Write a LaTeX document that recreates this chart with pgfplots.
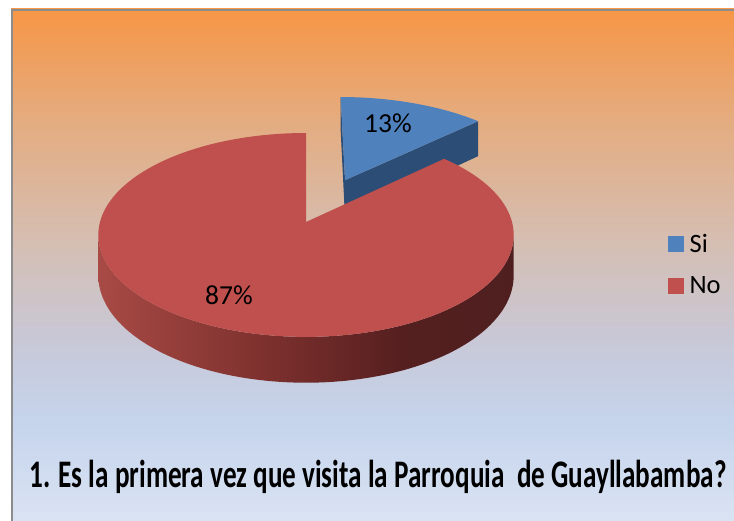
\documentclass[border=0pt]{standalone}
\usepackage{fontspec}
\setmainfont{Carlito}
\usepackage{graphicx}
\usepackage{pgfplots}
\pgfplotsset{compat=1.18}
\usepackage{pgfplotstable}

\definecolor{siblue}{RGB}{79,129,189}
\definecolor{sidark}{RGB}{44,77,117}
\definecolor{nored}{RGB}{192,80,77}
\definecolor{framegray}{RGB}{140,140,140}

\pgfdeclareverticalshading{bgshade}{100bp}{rgb(0bp)=(0.855,0.890,0.953); rgb(25bp)=(0.855,0.890,0.953); rgb(34.77bp)=(0.773,0.831,0.925); rgb(42.58bp)=(0.784,0.784,0.843); rgb(52.34bp)=(0.835,0.745,0.698); rgb(64.06bp)=(0.894,0.675,0.502); rgb(75bp)=(0.969,0.588,0.275); rgb(100bp)=(0.969,0.588,0.275)}
\pgfdeclarehorizontalshading{redside}{100bp}{rgb(0bp)=(0.66,0.29,0.27); rgb(25bp)=(0.66,0.29,0.27); rgb(45bp)=(0.49,0.19,0.18); rgb(62bp)=(0.33,0.12,0.12); rgb(75bp)=(0.31,0.12,0.12); rgb(100bp)=(0.31,0.12,0.12)}

\pgfplotstableread{
Respuesta Valor
Si 13
No 87
}\datatable

\begin{document}
\begin{tikzpicture}
\pgfplotstablegetelem{0}{Valor}\of\datatable \let\vSi\pgfplotsretval
\pgfplotstablegetelem{1}{Valor}\of\datatable \let\vNo\pgfplotsretval
\pgfmathsetmacro\tA{90}
\pgfmathsetmacro\tB{90-3.6*\vSi}
\pgfmathsetmacro\tC{\tB-3.6*\vNo}
\def\cu{0.2}
\def\cv{0.44}
\def\rb{1.04}
\useasboundingbox (0,0) rectangle (734bp,521bp);
\shade[shading=bgshade] (11bp,0) rectangle (734bp,512bp);
\draw[framegray, line width=1.6bp] (11.8bp,0) -- (11.8bp,511.2bp) -- (734bp,511.2bp);
\begin{axis}[
  at={(11bp,0bp)}, anchor=south west,
  width=723bp, height=512bp, scale only axis,
  xmin=11, xmax=734, ymin=9, ymax=521, y dir=reverse,
  hide axis,
  declare function={
    PX(\pa,\pb)=306+206*\pa/(1+0.127*\pb);
    PY(\pa,\pb,\pc)=222-(100.3*\pb-\pc)/(1+0.127*\pb);
  },
  legend image code/.code={\fill[#1] (0bp,-7.5bp) rectangle (15bp,7.5bp); \path (19bp,0bp);},
  legend cell align=left,
  legend style={at={(axis cs:668,232)}, anchor=north west, draw=none, fill=none,
    inner sep=0pt, row sep=19bp, font=\fontsize{26.5bp}{31bp}\selectfont},
]
% blue slice: walls
\addplot[forget plot, draw=none, fill=sidark, domain=0:3, samples=4, variable=\t]
 ({PX(\cu+\rb*min(min(\t,3-\t),1)*cos(\tB), \cv+\rb*min(min(\t,3-\t),1)*sin(\tB))},
  {PY(\cu+\rb*min(min(\t,3-\t),1)*cos(\tB), \cv+\rb*min(min(\t,3-\t),1)*sin(\tB), 40*min(max(\t-1,0),1))});
\addplot[forget plot, draw=none, fill=sidark, domain=0:3, samples=4, variable=\t]
 ({PX(\cu+\rb*min(min(\t,3-\t),1)*cos(\tA), \cv+\rb*min(min(\t,3-\t),1)*sin(\tA))},
  {PY(\cu+\rb*min(min(\t,3-\t),1)*cos(\tA), \cv+\rb*min(min(\t,3-\t),1)*sin(\tA), 40*min(max(\t-1,0),1))});
% blue slice: top
\addplot[forget plot, draw=none, fill=siblue, domain=0:61, samples=62, variable=\t]
 ({PX(\cu+\rb*min(\t,1)*cos(\tA+(\tB-\tA)*max(\t-1,0)/60), \cv+\rb*min(\t,1)*sin(\tA+(\tB-\tA)*max(\t-1,0)/60))},
  {PY(\cu+\rb*min(\t,1)*cos(\tA+(\tB-\tA)*max(\t-1,0)/60), \cv+\rb*min(\t,1)*sin(\tA+(\tB-\tA)*max(\t-1,0)/60), 0)});
% red slice: outer side
\addplot[forget plot, draw=none, shading=redside, domain=0:201, samples=202, variable=\t]
 ({PX(cos(187.3+165.4*min(\t,201-\t)/100), sin(187.3+165.4*min(\t,201-\t)/100))},
  {PY(cos(187.3+165.4*min(\t,201-\t)/100), sin(187.3+165.4*min(\t,201-\t)/100), 40*min(max(\t-100,0),1))});
% red slice: top
\addplot[forget plot, draw=none, fill=nored, domain=0:201, samples=202, variable=\t]
 ({PX(min(\t,1)*cos(\tB+(\tC-\tB)*max(\t-1,0)/200), min(\t,1)*sin(\tB+(\tC-\tB)*max(\t-1,0)/200))},
  {PY(min(\t,1)*cos(\tB+(\tC-\tB)*max(\t-1,0)/200), min(\t,1)*sin(\tB+(\tC-\tB)*max(\t-1,0)/200), 0)});
\addlegendimage{siblue}
\addlegendentry{Si}
\addlegendimage{nored}
\addlegendentry{No}
\node[font=\fontsize{27.5bp}{32bp}\selectfont, inner sep=0pt] at (axis cs:388,123) {\vSi\%};
\node[font=\fontsize{27.5bp}{32bp}\selectfont, inner sep=0pt] at (axis cs:229,295) {\vNo\%};
\node[anchor=base, inner sep=0pt] at (axis cs:378,487)
 {\resizebox{697bp}{\height}{\fontsize{39bp}{45bp}\selectfont\bfseries 1. Es la primera vez que visita la Parroquia\ \ de Guayllabamba?}};
\end{axis}
\end{tikzpicture}
\end{document}
